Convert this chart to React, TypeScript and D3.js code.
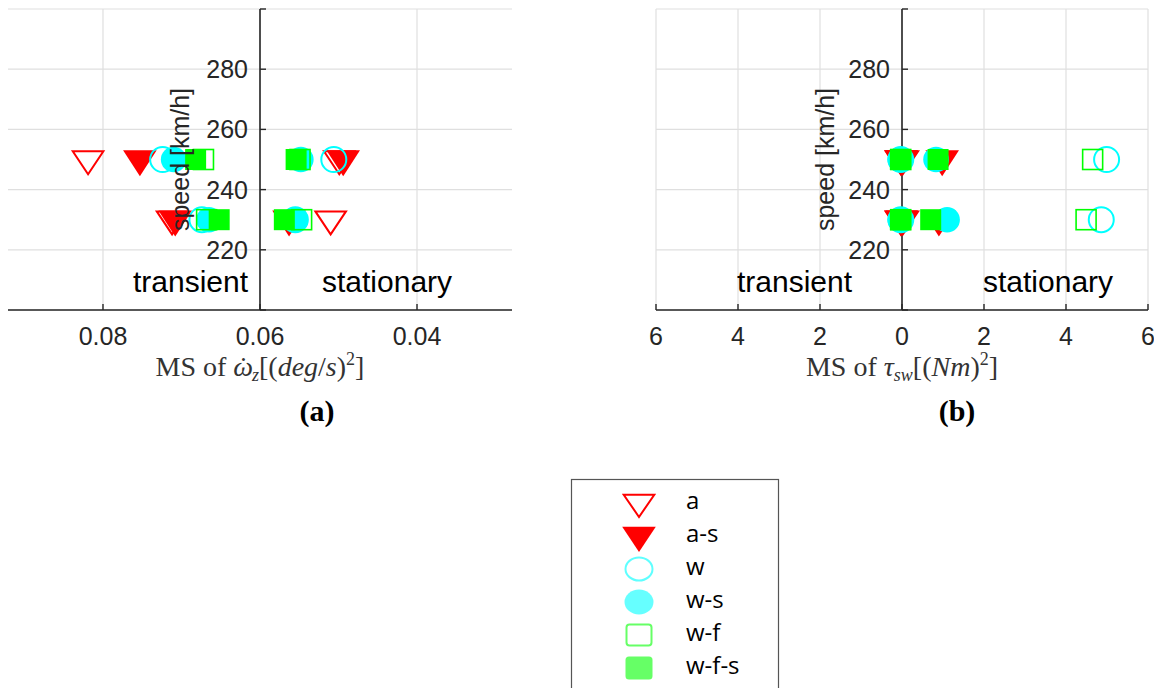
import React from "react";
import * as d3 from "d3";

// ---------- data ----------
const seriesNames = ["a", "a-s", "w", "w-s", "w-f", "w-f-s"];
const speedHigh = 250;
const speedLow = 230;

// (a) MS of yaw acceleration, per series in order of seriesNames
const yawTransient250 = [0.0819, 0.0753, 0.0724, 0.071, 0.0672, 0.0682];
const yawTransient230 = [0.0712, 0.0708, 0.0674, 0.0665, 0.0668, 0.0652];
const yawStationary250 = [0.0499, 0.0494, 0.0506, 0.0548, 0.0549, 0.0554];
const yawStationary230 = [0.051, 0.0563, 0.0555, 0.0555, 0.0547, 0.0569];

// (b) MS of steering torque (transient plotted on negative side)
const torqueTransient250 = [-0.02, -0.03, -0.03, -0.04, -0.03, -0.04];
const torqueTransient230 = [-0.02, -0.03, -0.03, -0.04, -0.03, -0.04];
const torqueStationary250 = [0.02, 0.98, 4.99, 0.83, 4.65, 0.88];
const torqueStationary230 = [0.02, 0.9, 4.86, 1.1, 4.49, 0.7];

const yTicks = [200, 220, 240, 260, 280, 300];
const yTickLabels = ["", "220", "240", "260", "280", ""];
const yawTicks = [0.08, 0.06, 0.04];
const yawTickLabels = ["0.08", "0.06", "0.04"];
const torqueTicks = [-6, -4, -2, 0, 2, 4, 6];
const torqueTickLabels = ["6", "4", "2", "0", "2", "4", "6"];

// ---------- styles ----------
const markerKinds = ["triOpen", "triFilled", "circOpen", "circFilled", "sqOpen", "sqFilled"];
const plotColors = ["#ff0000", "#ff0000", "#00ffff", "#00ffff", "#00ff00", "#00ff00"];
const legendColors = ["#ff0000", "#ff0000", "#5fffff", "#66ffff", "#66ff66", "#66ff66"];

const AXIS = "#262626";
const GRID = "#dfdfdf";
const SANS = "'Liberation Sans', Arial, sans-serif";
const SERIF = "'Liberation Serif', 'DejaVu Serif', serif";

function Marker({ kind, cx, cy, color, legend }) {
  switch (kind) {
    case "triOpen":
      return (
        <path
          d={`M${cx - 15.3},${cy - 8.3}L${cx + 15.3},${cy - 8.3}L${cx},${cy + (legend ? 14 : 14.7)}Z`}
          fill="none"
          stroke={color}
          strokeWidth={2}
        />
      );
    case "triFilled":
      return (
        <path
          d={`M${cx - 16.8},${cy - 9.3}L${cx + 16.8},${cy - 9.3}L${cx},${cy + (legend ? 16 : 16.7)}Z`}
          fill={color}
        />
      );
    case "circOpen":
      return legend ? (
        <ellipse cx={cx} cy={cy} rx={13.5} ry={11.5} fill="none" stroke={color} strokeWidth={2} />
      ) : (
        <circle cx={cx} cy={cy} r={12.5} fill="none" stroke={color} strokeWidth={2} />
      );
    case "circFilled":
      return legend ? (
        <ellipse cx={cx} cy={cy} rx={14.5} ry={12.5} fill={color} />
      ) : (
        <circle cx={cx} cy={cy} r={12.8} fill={color} />
      );
    case "sqOpen":
      return legend ? (
        <rect x={cx - 12.5} y={cy - 10.5} width={25} height={21} rx={3} fill="none" stroke={color} strokeWidth={2} />
      ) : (
        <rect x={cx - 10} y={cy - 10} width={20} height={20} fill="none" stroke={color} strokeWidth={1.6} />
      );
    case "sqFilled":
      return legend ? (
        <rect x={cx - 13.5} y={cy - 11.5} width={27} height={23} rx={3.5} fill={color} />
      ) : (
        <rect x={cx - 10.5} y={cy - 10.5} width={21} height={21} fill={color} />
      );
    default:
      return null;
  }
}

const y = d3.scaleLinear().domain([200, 300]).range([310, 9]);

function Panel({ x, ticks, tickLabels, center, groups, xLabel, caption, captionX, ylabelX, notes }) {
  const [x0, x1] = x.range();
  const cx = x(center);
  return (
    <g>
      {/* grid */}
      {yTicks.map((t) => (
        <line key={"gy" + t} x1={x0} x2={x1} y1={y(t)} y2={y(t)} stroke={GRID} strokeWidth={1.2} />
      ))}
      {ticks.map((t) => (
        <line key={"gx" + t} x1={x(t)} x2={x(t)} y1={y(300)} y2={y(200)} stroke={GRID} strokeWidth={1.2} />
      ))}
      {/* bottom axis */}
      <line x1={x0} x2={x1} y1={y(200)} y2={y(200)} stroke={AXIS} strokeWidth={1.6} />
      {ticks.map((t) => (
        <line key={"tx" + t} x1={x(t)} x2={x(t)} y1={y(200)} y2={y(200) - 6} stroke={AXIS} strokeWidth={1.4} />
      ))}
      {/* central y axis */}
      <line x1={cx} x2={cx} y1={y(300)} y2={y(200)} stroke={AXIS} strokeWidth={1.6} />
      {yTicks.map((t) => (
        <line key={"ty" + t} x1={cx} x2={cx + 6} y1={y(t)} y2={y(t)} stroke={AXIS} strokeWidth={1.4} />
      ))}
      {yTicks.map((t, i) => (
        <text key={"yl" + t} x={cx - 12} y={y(t) + 9} textAnchor="end" fontFamily={SANS} fontSize={25} fill={AXIS}>
          {yTickLabels[i]}
        </text>
      ))}
      {ticks.map((t, i) => (
        <text key={"xl" + t} x={x(t)} y={345} textAnchor="middle" fontFamily={SANS} fontSize={25} fill={AXIS}>
          {tickLabels[i]}
        </text>
      ))}
      {/* annotations */}
      {notes.map((n) => (
        <text key={n.text} x={n.x} y={292} fontFamily={SANS} fontSize={30} fill="#000">
          {n.text}
        </text>
      ))}
      {/* markers */}
      {seriesNames.map((name, i) =>
        groups.map((g, j) => (
          <Marker key={name + j} kind={markerKinds[i]} cx={x(g.values[i])} cy={y(g.speed)} color={plotColors[i]} />
        ))
      )}
      {/* y label */}
      <text
        transform={`translate(${ylabelX},${(y(300) + y(200)) / 2}) rotate(-90)`}
        textAnchor="middle"
        fontFamily={SANS}
        fontSize={25}
        fill={AXIS}
      >
        speed [km/h]
      </text>
      {/* x label */}
      <text x={cx} y={376} textAnchor="middle" fontFamily={SERIF} fontSize={28} fill="#333">
        {xLabel}
      </text>
      <text x={captionX} y={421} textAnchor="middle" fontFamily={SERIF} fontSize={30} fontWeight="bold" fill="#000">
        {caption}
      </text>
    </g>
  );
}

export default function App() {
  const xA = d3.scaleLinear().domain([0.0921, 0.0279]).range([8, 512]);
  const xB = d3.scaleLinear().domain([-6, 6]).range([656, 1148]);

  const groupsA = [
    { speed: speedHigh, values: yawTransient250 },
    { speed: speedLow, values: yawTransient230 },
    { speed: speedHigh, values: yawStationary250 },
    { speed: speedLow, values: yawStationary230 },
  ];
  const groupsB = [
    { speed: speedHigh, values: torqueTransient250 },
    { speed: speedLow, values: torqueTransient230 },
    { speed: speedHigh, values: torqueStationary250 },
    { speed: speedLow, values: torqueStationary230 },
  ];

  const labelA = (
    <>
      <tspan>MS of </tspan>
      <tspan fontStyle="italic">{"\u03C9"}</tspan>
      <tspan dx={-14.5}>{"\u02D9"}</tspan>
      <tspan fontStyle="italic" fontSize={18} dx={4} dy={5}>z</tspan>
      <tspan dy={-5}>[(</tspan>
      <tspan fontStyle="italic">deg</tspan>
      <tspan>/</tspan>
      <tspan fontStyle="italic">s</tspan>
      <tspan>)</tspan>
      <tspan fontSize={18} dy={-11}>2</tspan>
      <tspan dy={11}>]</tspan>
    </>
  );
  const labelB = (
    <>
      <tspan>MS of </tspan>
      <tspan fontStyle="italic">{"\u03C4"}</tspan>
      <tspan fontStyle="italic" fontSize={18} dy={5}>sw</tspan>
      <tspan dy={-5}>[(</tspan>
      <tspan fontStyle="italic">Nm</tspan>
      <tspan>)</tspan>
      <tspan fontSize={18} dy={-11}>2</tspan>
      <tspan dy={11}>]</tspan>
    </>
  );

  const legendX = 639;
  const legendTextX = 686;
  const legendTop = 503;
  const legendStep = 33;

  return (
    <svg width={1154} height={688} style={{ position: "absolute", left: 0, top: 0, background: "#fff" }}>
      <rect x={0} y={0} width={1154} height={688} fill="#fff" />
      <Panel
        x={xA}
        ticks={yawTicks}
        tickLabels={yawTickLabels}
        center={0.06}
        groups={groupsA}
        xLabel={labelA}
        caption="(a)"
        captionX={317}
        ylabelX={189}
        notes={[
          { text: "transient", x: 133 },
          { text: "stationary", x: 322 },
        ]}
      />
      <Panel
        x={xB}
        ticks={torqueTicks}
        tickLabels={torqueTickLabels}
        center={0}
        groups={groupsB}
        xLabel={labelB}
        caption="(b)"
        captionX={957}
        ylabelX={834}
        notes={[
          { text: "transient", x: 737 },
          { text: "stationary", x: 983 },
        ]}
      />
      {/* legend */}
      <rect x={571.5} y={479.5} width={207} height={230} fill="#fff" stroke="#555" strokeWidth={1.2} />
      {seriesNames.map((name, i) => {
        const cy = legendTop + i * legendStep;
        return (
          <g key={"lg" + name}>
            <Marker kind={markerKinds[i]} cx={legendX} cy={cy} color={legendColors[i]} legend />
            <text x={legendTextX} y={cy + 6} fontFamily="'Open Sans', 'Noto Sans', sans-serif" fontSize={24} fill="#000">
              {name}
            </text>
          </g>
        );
      })}
    </svg>
  );
}
